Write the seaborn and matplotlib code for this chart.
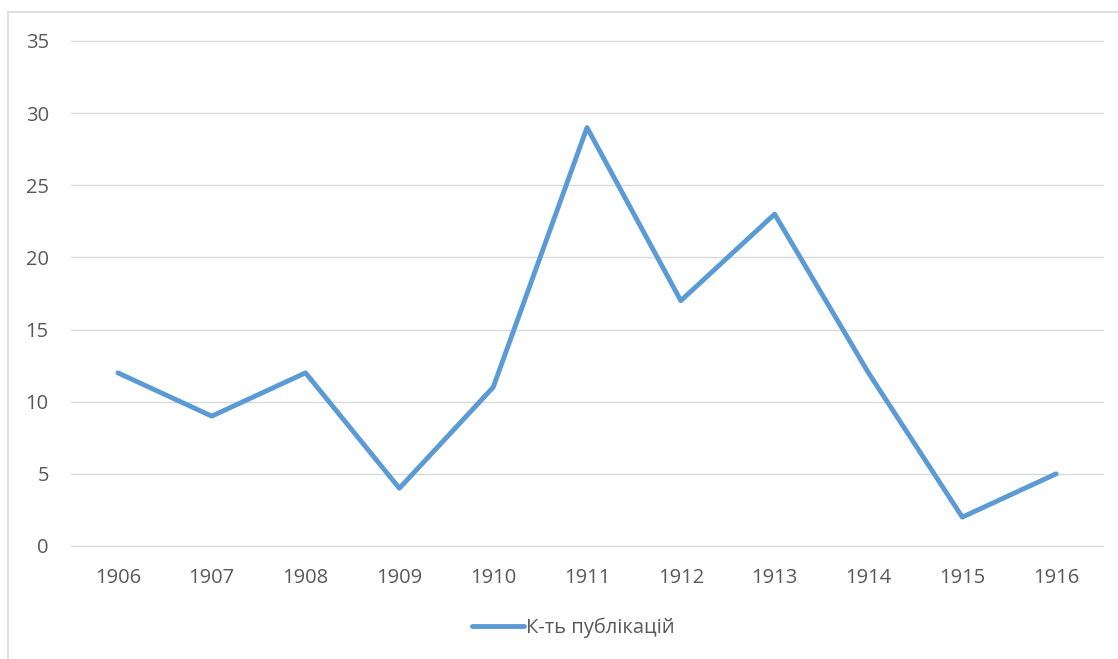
import pandas as pd
import matplotlib.pyplot as plt
import seaborn as sns
from matplotlib.patches import Rectangle

# values
years = [1906, 1907, 1908, 1909, 1910, 1911, 1912, 1913, 1914, 1915, 1916]
counts = [12, 9, 12, 4, 11, 29, 17, 23, 12, 2, 5]
series_name = 'К-ть публікацій'
y_ticks = [0, 5, 10, 15, 20, 25, 30, 35]

df = pd.DataFrame({'year': years, 'count': counts})

sns.set_style('white')
plt.rcParams['font.family'] = ['Open Sans', 'DejaVu Sans']

fig = plt.figure(figsize=(11.18, 6.59), dpi=100)
ax = fig.add_axes([0.0635, 0.1715, 0.9231, 0.7663])

# outer chart frame, cropped at the right and bottom like the source
fig.patches.append(Rectangle((8 / 1118, -0.1), 1.2, 0.1 + 1 - 12 / 659,
                             transform=fig.transFigure, fill=False,
                             edgecolor='#D9D9D9', linewidth=1.2))

sns.lineplot(data=df, x='year', y='count', ax=ax, color='#5B9BD5',
             linewidth=3.5, label=series_name, solid_capstyle='round',
             zorder=3)

ax.set_xlim(years[0] - 0.5, years[-1] + 0.5)
ax.set_ylim(0, 35)
ax.set_xticks(years)
ax.set_yticks(y_ticks)
ax.grid(axis='y', color='#D9D9D9', linewidth=1)
ax.grid(axis='x', visible=False)
for g in ax.get_ygridlines():
    g.set_clip_on(False)
for s in ax.spines.values():
    s.set_visible(False)
ax.tick_params(length=0, labelsize=14.5, colors='#595959')
ax.tick_params(axis='y', pad=16)
ax.tick_params(axis='x', pad=16)
ax.set_xlabel('')
ax.set_ylabel('')

ax.legend(loc='center', bbox_to_anchor=(573 / 1118, 1 - 628 / 659),
          bbox_transform=fig.transFigure, frameon=False, fontsize=14.5,
          labelcolor='#595959', handlelength=2.6, handletextpad=0.1)

fig.savefig('out.png', dpi=100)
